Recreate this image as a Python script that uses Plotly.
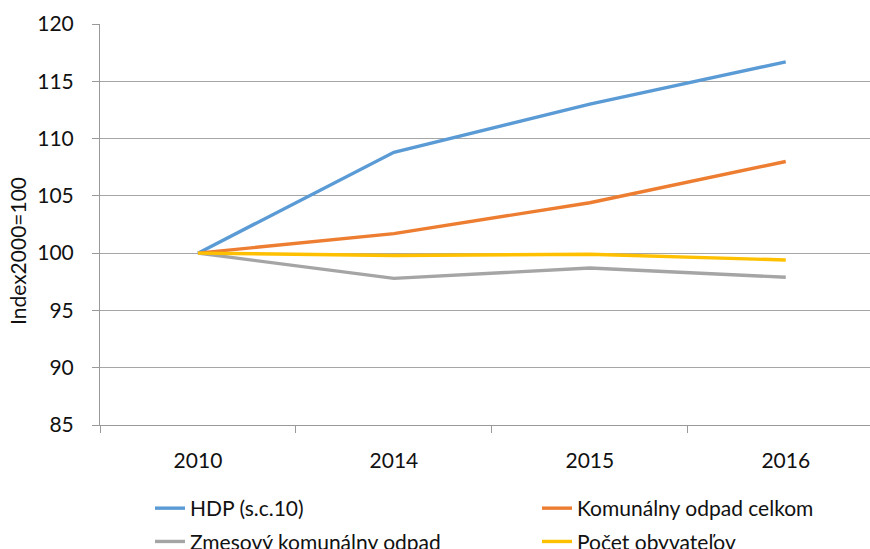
import plotly.graph_objects as go

years = ["2010", "2014", "2015", "2016"]
hdp = [100.0, 108.8, 113.0, 116.7]
komunalny = [100.0, 101.7, 104.4, 108.0]
zmesovy = [100.0, 97.8, 98.7, 97.9]
pocet = [100.0, 99.8, 99.9, 99.4]

names = ["HDP (s.c.10)", "Komunálny odpad celkom", "Zmesový komunálny odpad", "Počet obyvateľov"]
colors = ["#5B9BD5", "#ED7D31", "#A5A5A5", "#FFC000"]
series = [hdp, komunalny, zmesovy, pocet]
legends = ["legend", "legend2", "legend", "legend2"]

FONT = "Lato"
FS = 21
fig = go.Figure()
for i, (n, c, s, lg) in enumerate(zip(names, colors, series, legends)):
    fig.add_trace(go.Scatter(x=years, y=s, name=n, mode="lines", legend=lg, legendgroup=f"g{i}",
                             line=dict(color=c, width=3.4)))

leg_common = dict(orientation="v", xref="paper", yref="paper", xanchor="left", yanchor="top",
                  y=(425 - 488) / 401, tracegroupgap=3, font=dict(size=FS), traceorder="grouped",
                  bgcolor="rgba(0,0,0,0)")

fig.update_layout(
    width=870, height=549,
    margin=dict(l=100, r=0, t=24, b=124, autoexpand=False),
    paper_bgcolor="white", plot_bgcolor="white",
    font=dict(family=FONT, size=FS, color="#111111"),
    showlegend=True,
    legend=dict(x=(150 - 100) / 770, **leg_common),
    legend2=dict(x=(537 - 100) / 770, **leg_common),
    xaxis=dict(type="category", range=[-0.5, 3.43], showline=True, linecolor="#999999", linewidth=1,
               ticks="outside", tickson="boundaries", ticklen=7, tickcolor="#999999",
               showgrid=False, ticklabelstandoff=17),
    yaxis=dict(range=[85, 120], dtick=5, showline=True, linecolor="#999999", linewidth=1,
               ticks="outside", ticklen=7, tickcolor="#999999",
               showgrid=True, gridcolor="#A6A6A6", gridwidth=1, zeroline=False,
               ticklabelstandoff=14),
    annotations=[dict(text="Index2000=100", textangle=-90, xref="paper", yref="paper",
                      x=(18 - 100) / 770, y=(425 - 251) / 401, xanchor="center", yanchor="middle",
                      showarrow=False, font=dict(size=FS))],
)
fig.write_html("out.html", config={"displayModeBar": False},
               post_script="document.body.style.margin='0';document.body.style.overflow='hidden';")
